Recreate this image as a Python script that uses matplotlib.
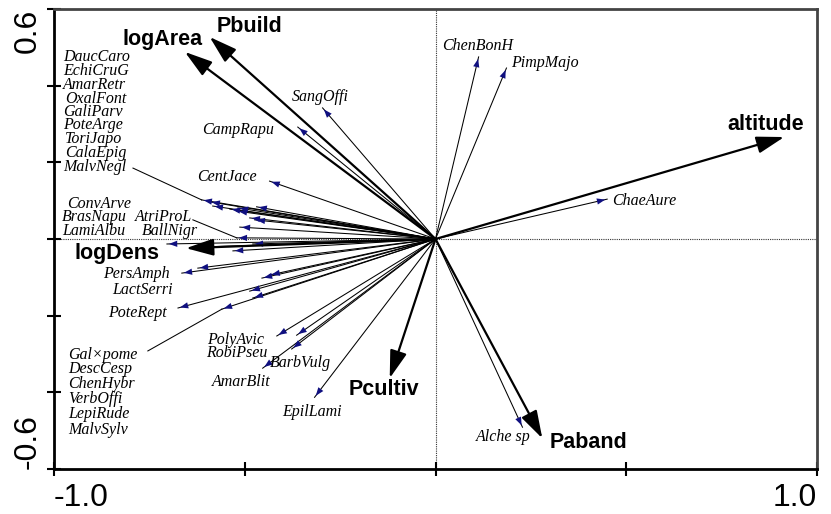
import matplotlib
matplotlib.use('Agg')
import matplotlib.pyplot as plt
from matplotlib.patches import FancyArrowPatch

# Species scores (axis 1, axis 2)
species = [
    'MalvNegl', 'DaucCaro', 'EchiCruG', 'AmarRetr', 'OxalFont', 'GaliParv',
    'PoteArge', 'CalaEpig', 'ToriJapo', 'ConvArve', 'AtriProL',
    'BallNigr', 'LamiAlbu', 'BrasNapu', 'LactSerri',
    'PersAmph', 'DescCesp', 'ChenHybr', 'LepiRude', 'MalvSylv', 'VerbOffi',
    'Gal×pome', 'PoteRept',
    'PolyAvic', 'RobiPseu', 'BarbVulg', 'AmarBlit', 'EpilLami',
    'CentJace', 'CampRapu', 'SangOffi',
    'ChenBonH', 'PimpMajo', 'ChaeAure', 'Alche sp',
]
sp_x = [
    -0.613, -0.592, -0.584, -0.539, -0.518, -0.469,
    -0.487, -0.513, -0.474, -0.521, -0.521,
    -0.704, -0.613, -0.531, -0.479,
    -0.665, -0.455, -0.435, -0.487, -0.479, -0.623,
    -0.560, -0.675,
    -0.416, -0.364, -0.377, -0.453, -0.317,
    -0.435, -0.361, -0.296,
    0.113, 0.186, 0.450, 0.228,
]
sp_y = [
    0.102, 0.097, 0.086, 0.078, 0.081, 0.084,
    0.055, 0.031, 0.050, 0.073, 0.003,
    -0.013, -0.021, -0.031, -0.013,
    -0.089, -0.102, -0.094, -0.136, -0.154, -0.076,
    -0.183, -0.180,
    -0.253, -0.251, -0.287, -0.337, -0.413,
    0.151, 0.292, 0.342,
    0.475, 0.446, 0.104, -0.491,
]

# Environmental variables
env_vars = ['altitude', 'Pbuild', 'logArea', 'logDens', 'Pcultiv', 'Paband']
env_x = [0.914, -0.592, -0.657, -0.654, -0.120, 0.280]
env_y = [0.266, 0.527, 0.488, -0.024, -0.363, -0.520]

# label layout (left x, centre y) in axis units
sp_label_pos = {
    'DaucCaro': (-0.976, 0.475), 'EchiCruG': (-0.976, 0.439),
    'AmarRetr': (-0.976, 0.402), 'OxalFont': (-0.971, 0.366),
    'GaliParv': (-0.976, 0.332), 'PoteArge': (-0.976, 0.298),
    'ToriJapo': (-0.971, 0.262), 'CalaEpig': (-0.971, 0.225),
    'MalvNegl': (-0.976, 0.188),
    'ConvArve': (-0.966, 0.091), 'BrasNapu': (-0.979, 0.057),
    'LamiAlbu': (-0.979, 0.021), 'AtriProL': (-0.788, 0.057),
    'BallNigr': (-0.770, 0.021),
    'PersAmph': (-0.872, -0.091), 'LactSerri': (-0.848, -0.133),
    'PoteRept': (-0.859, -0.193),
    'Gal×pome': (-0.963, -0.303), 'DescCesp': (-0.963, -0.339),
    'ChenHybr': (-0.963, -0.379), 'VerbOffi': (-0.963, -0.418),
    'LepiRude': (-0.963, -0.457), 'MalvSylv': (-0.963, -0.499),
    'PolyAvic': (-0.599, -0.264), 'RobiPseu': (-0.602, -0.298),
    'AmarBlit': (-0.586, -0.373), 'BarbVulg': (-0.435, -0.324),
    'EpilLami': (-0.403, -0.452), 'Alche sp': (0.107, -0.517),
    'ChenBonH': (0.018, 0.504), 'PimpMajo': (0.199, 0.460),
    'ChaeAure': (0.463, 0.099), 'SangOffi': (-0.377, 0.371),
    'CampRapu': (-0.613, 0.285), 'CentJace': (-0.626, 0.162),
}
# leader lines from displaced labels to their arrow tips
leaders = {
    'MalvNegl': (-0.793, 0.185),
    'AtriProL': (-0.636, 0.050),
    'Gal×pome': (-0.754, -0.292),
}
env_label_pos = {
    'altitude': (0.866, 0.298), 'Pbuild': (-0.487, 0.554),
    'logArea': (-0.715, 0.520), 'logDens': (-0.835, -0.039),
    'Pcultiv': (-0.136, -0.392), 'Paband': (0.401, -0.530),
}

fig = plt.figure(figsize=(8.31, 5.14), dpi=100)
ax = fig.add_axes([54 / 831, 1 - 469 / 514, 763 / 831, 460 / 514])
ax.set_xlim(-1.0, 1.0)
ax.set_ylim(-0.6, 0.6)

ax.axhline(0, color='#333333', lw=0.8, ls=(0, (1, 1)), zorder=1)
ax.axvline(0, color='#333333', lw=0.8, ls=(0, (1, 1)), zorder=1)

# species arrows: black shaft, navy head
for name, x, y in zip(species, sp_x, sp_y):
    ax.plot([0, x], [0, y], color='black', lw=0.75, zorder=2)
    head = FancyArrowPatch((0, 0), (x, y),
                           arrowstyle='-|>,head_length=1.2,head_width=0.45',
                           mutation_scale=5, shrinkA=0, shrinkB=0,
                           ec='none', fc='#101080', zorder=3)
    ax.add_patch(head)

for name, (lx, ly) in leaders.items():
    i = species.index(name)
    ax.plot([lx, sp_x[i]], [ly, sp_y[i]], color='black', lw=0.75, zorder=2)

for name, (lx, ly) in sp_label_pos.items():
    ax.text(lx, ly, name, family='Liberation Serif', style='italic',
            fontsize=11.5, ha='left', va='center', zorder=5)

# environmental arrows
for name, x, y in zip(env_vars, env_x, env_y):
    ax.annotate('', xy=(x, y), xytext=(0, 0),
                arrowprops=dict(arrowstyle='-|>,head_length=1.3,head_width=0.4',
                                mutation_scale=13, lw=1.6, color='black',
                                shrinkA=0, shrinkB=0), zorder=4)
    lx, ly = env_label_pos[name]
    ax.text(lx, ly, name, family='Liberation Sans', fontweight='bold',
            fontsize=15.5, ha='center', va='center', zorder=5)

# axes styling
for side in ['left', 'bottom']:
    ax.spines[side].set_linewidth(2)
    ax.spines[side].set_color('black')
for side in ['top', 'right']:
    ax.spines[side].set_linewidth(2)
    ax.spines[side].set_color('#444444')

ax.set_xticks([-1.0, -0.5, 0.0, 0.5, 1.0])
ax.set_xticklabels(['-1.0', '', '', '', '1.0'])
ax.set_yticks([-0.6, -0.4, -0.2, 0.0, 0.2, 0.4, 0.6])
ax.set_yticklabels(['-0.6', '', '', '', '', '', '0.6'], rotation=90)
ax.tick_params(direction='inout', length=10, width=1.5, labelsize=23)
ax.tick_params(axis='x', pad=5)
ax.tick_params(axis='y', pad=3)
xt = ax.get_xticklabels()
xt[0].set_ha('left')
xt[-1].set_ha('right')
yt = ax.get_yticklabels()
yt[0].set_va('bottom')
yt[-1].set_va('top')
for t in xt + yt:
    t.set_family('Liberation Sans')

fig.savefig('out.png', dpi=100, facecolor='white')
